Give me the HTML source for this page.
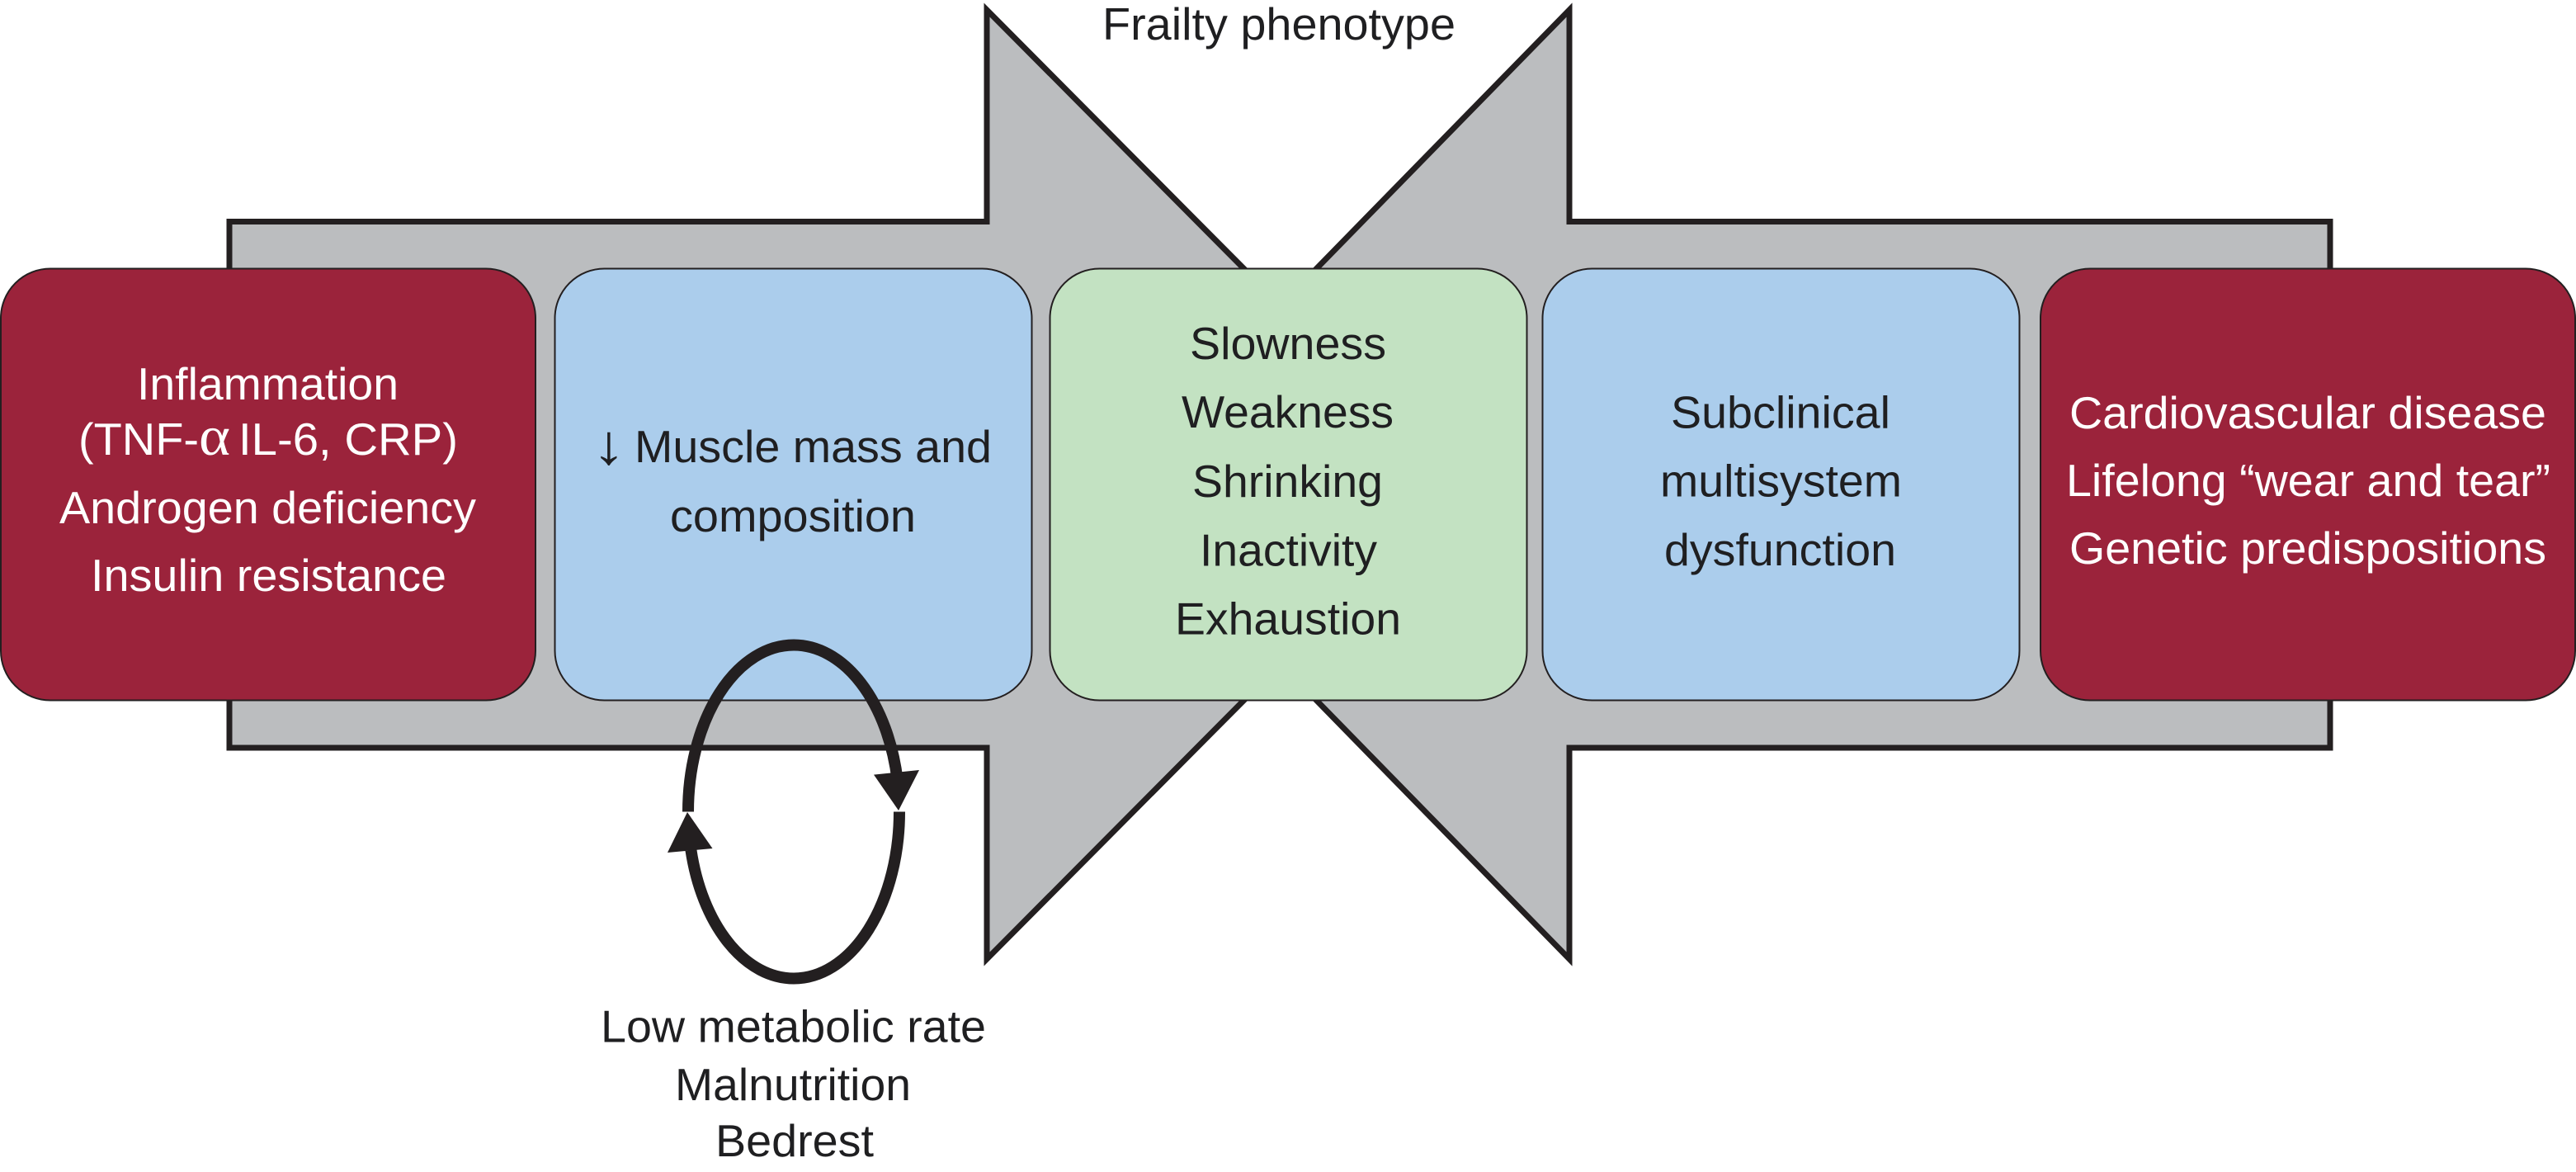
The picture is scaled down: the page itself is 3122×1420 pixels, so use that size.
<!DOCTYPE html>
<html>
<head>
<meta charset="utf-8">
<title>Frailty phenotype</title>
<style>
html,body{margin:0;padding:0;background:#fff;width:3122px;height:1420px;overflow:hidden}
svg{display:block}
text{font-family:"Liberation Sans",Arial,sans-serif;font-size:55px;fill:#1f1f21}
.w text,text.w{fill:#fff}
</style>
</head>
<body>
<svg width="3122" height="1420" viewBox="0 0 3122 1420" xmlns="http://www.w3.org/2000/svg">
  <rect width="3122" height="1420" fill="#fff"/>
  <!-- grey arrows -->
  <path d="M278 268.500H1196V12L1512 330V844L1196 1162V906H278Z" fill="#bbbdbf" stroke="#231f20" stroke-width="7" stroke-miterlimit="10"/>
  <path d="M2824 268.500H1902V12L1591 330V844L1902 1162V906H2824Z" fill="#bbbdbf" stroke="#231f20" stroke-width="7" stroke-miterlimit="10"/>
  <!-- boxes -->
  <g stroke="#231f20" stroke-width="2">
    <rect x="1" y="325.500" width="648" height="523" rx="60" ry="60" fill="#9b233b"/>
    <rect x="672.500" y="325.500" width="578" height="523" rx="60" ry="60" fill="#abcdec"/>
    <rect x="1272.500" y="325.500" width="578" height="523" rx="60" ry="60" fill="#c3e2c2"/>
    <rect x="1869.500" y="325.500" width="578" height="523" rx="60" ry="60" fill="#abcdec"/>
    <rect x="2473" y="325.500" width="648" height="523" rx="60" ry="60" fill="#9b233b"/>
  </g>
  <!-- cycle -->
  <g fill="none" stroke="#231f20" stroke-width="14">
    <path d="M834 983.500A128 202 0 0 1 962 781.500A128 202 0 0 1 1087.650 945"/>
    <path d="M1090 983.500A128 202 0 0 1 962 1185.500A128 202 0 0 1 837.440 1030"/>
  </g>
  <path d="M833 984L809 1033L863.500 1028Z" fill="#231f20"/>
  <path d="M1089 982L1059 938.600L1114 933Z" fill="#231f20"/>
  <!-- labels -->
  <text x="1336" y="48" textLength="428" lengthAdjust="spacingAndGlyphs">Frailty phenotype</text>

  <g class="w">
    <text x="166" y="484" textLength="317" lengthAdjust="spacingAndGlyphs">Inflammation</text>
    <text x="95" y="551" textLength="146" lengthAdjust="spacingAndGlyphs">(TNF-</text>
    <text x="241" y="551" textLength="38" lengthAdjust="spacingAndGlyphs" style="font-family:'Liberation Serif',serif;font-size:68px">α</text>
    <text x="289" y="551" textLength="266" lengthAdjust="spacingAndGlyphs">IL-6, CRP)</text>
    <text x="72" y="634" textLength="505" lengthAdjust="spacingAndGlyphs">Androgen deficiency</text>
    <text x="110" y="716" textLength="431" lengthAdjust="spacingAndGlyphs">Insulin resistance</text>
  </g>

  <text x="717.400" y="562" textLength="41" lengthAdjust="spacingAndGlyphs" style="font-size:68px">↓</text>
  <text x="769" y="560" textLength="433" lengthAdjust="spacingAndGlyphs">Muscle mass and</text>
  <text x="812" y="644" textLength="298" lengthAdjust="spacingAndGlyphs">composition</text>

  <text x="1442" y="435" textLength="238" lengthAdjust="spacingAndGlyphs">Slowness</text>
  <text x="1432" y="518" textLength="257" lengthAdjust="spacingAndGlyphs">Weakness</text>
  <text x="1445" y="602" textLength="231" lengthAdjust="spacingAndGlyphs">Shrinking</text>
  <text x="1454" y="685.500" textLength="215" lengthAdjust="spacingAndGlyphs">Inactivity</text>
  <text x="1424" y="768.500" textLength="274" lengthAdjust="spacingAndGlyphs">Exhaustion</text>

  <text x="2025" y="518.500" textLength="266" lengthAdjust="spacingAndGlyphs">Subclinical</text>
  <text x="2012" y="601.500" textLength="293" lengthAdjust="spacingAndGlyphs">multisystem</text>
  <text x="2017" y="685" textLength="281" lengthAdjust="spacingAndGlyphs">dysfunction</text>

  <g class="w">
    <text x="2508" y="519" textLength="578" lengthAdjust="spacingAndGlyphs">Cardiovascular disease</text>
    <text x="2504" y="601" textLength="587" lengthAdjust="spacingAndGlyphs">Lifelong “wear and tear”</text>
    <text x="2508" y="683" textLength="578" lengthAdjust="spacingAndGlyphs">Genetic predispositions</text>
  </g>

  <text x="728" y="1262.500" textLength="467" lengthAdjust="spacingAndGlyphs">Low metabolic rate</text>
  <text x="818" y="1333" textLength="286" lengthAdjust="spacingAndGlyphs">Malnutrition</text>
  <text x="867" y="1401" textLength="192" lengthAdjust="spacingAndGlyphs">Bedrest</text>
</svg>
</body>
</html>
